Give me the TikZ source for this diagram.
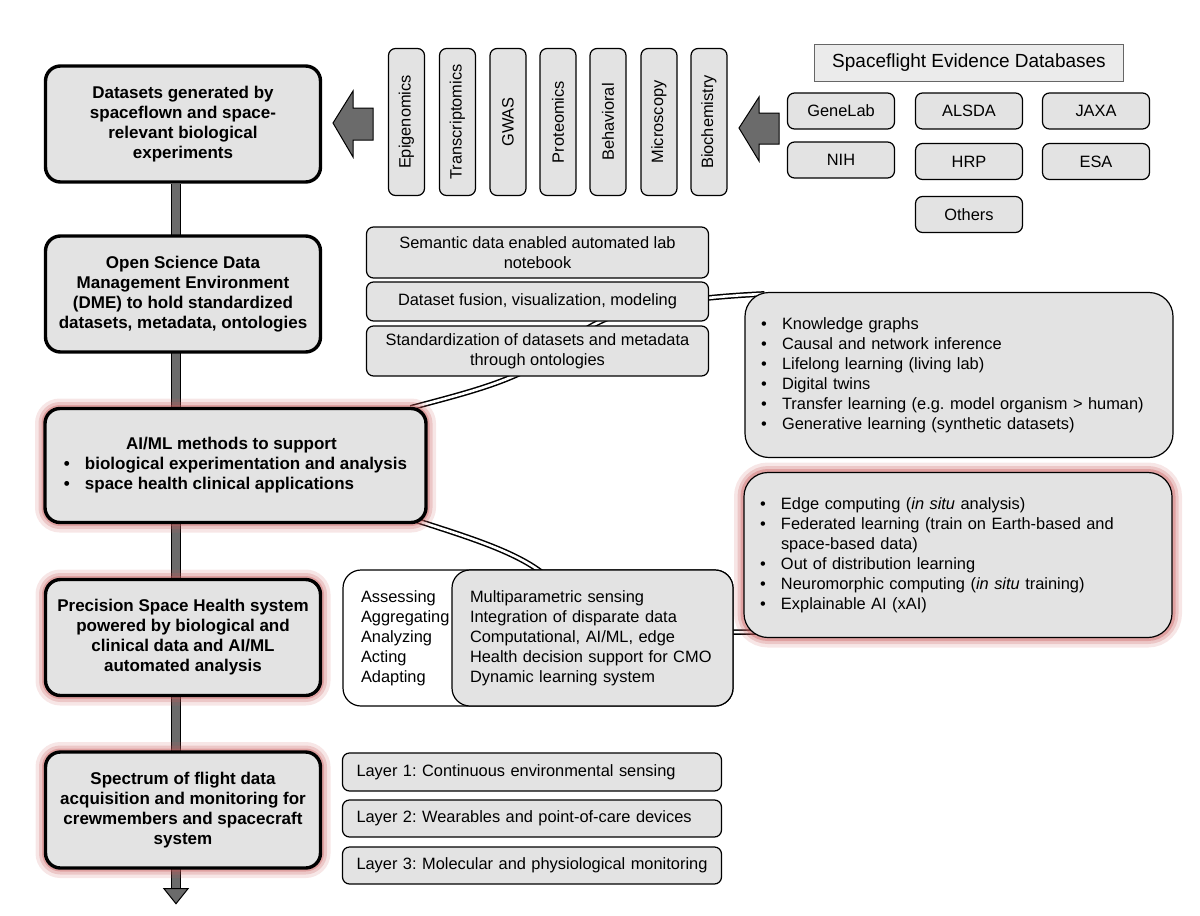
\documentclass[tikz,border=0pt]{standalone}
\usepackage{fontspec}
\setmainfont{Liberation Sans}
\usepackage{tikz}
\usetikzlibrary{positioning,backgrounds,calc}
\frenchspacing
\hyphenpenalty=10000
\definecolor{boxgray}{HTML}{E3E3E3}
\definecolor{arrgray}{HTML}{6B6B6B}
\definecolor{glowred}{HTML}{C85A5A}
\newcommand{\itm}{\makebox[21pt][l]{\textbullet}}
\tikzstyle{big}=[draw, line width=3.4pt, rounded corners=15pt, fill=boxgray, align=center, inner sep=0pt, minimum width=275pt, minimum height=116pt, font=\fontsize{17}{20}\selectfont\bfseries]
\tikzstyle{glow}=[preaction={draw=glowred, line width=20pt, opacity=.15}, preaction={draw=glowred, line width=13pt, opacity=.22}, preaction={draw=glowred, line width=7pt, opacity=.35}]
\tikzstyle{small}=[draw, line width=1.2pt, rounded corners=7pt, fill=boxgray, inner sep=0pt, font=\fontsize{16.4}{20}\selectfont]
\tikzstyle{strip}=[small, minimum width=36pt, minimum height=147pt]
\tikzstyle{db}=[small, minimum width=107pt, minimum height=36pt]
\tikzstyle{mid}=[small, align=center, minimum width=342pt]
\tikzstyle{layer}=[small, minimum width=379pt, text width=351pt, align=left]
\tikzstyle{list}=[small, rounded corners=24pt, align=left, minimum width=428pt, minimum height=165pt, text width=396pt]
\tikzstyle{spine}=[draw=black, line width=1.2pt, double=arrgray, double distance=8pt]
\tikzstyle{dbl}=[draw=black, line width=1.5pt, double=white, double distance=2.6pt]
\tikzstyle{blk}=[draw=black, line width=1pt, fill=arrgray, line join=miter]

\begin{document}
\begin{tikzpicture}[x=1pt, y=-1pt]
    \useasboundingbox (0,0) rectangle (1200,916);

    % main column
    \node [big] (data) at (183,124) {Datasets generated by\\spaceflown and space-\\relevant biological\\experiments};
    \node [big] (dme) [below of=data, node distance=170pt] {Open Science Data\\Management Environment\\(DME) to hold standardized\\datasets, metadata, ontologies};
    \node [big, glow, minimum width=381pt, minimum height=114pt, align=left] (aiml) at (235.5,465.5)
        {\makebox[335pt][c]{AI/ML methods to support}\\
         \itm biological experimentation and analysis\\
         \itm space health clinical applications};
    \node [big, glow] (psh) at (183,637.5) {Precision Space Health system\\powered by biological and\\clinical data and AI/ML\\automated analysis};
    \node [big, glow] (flight) [below of=psh, node distance=172.5pt] {Spectrum of flight data\\acquisition and monitoring for\\crewmembers and spacecraft\\system};

    % data types
    \node [strip] (epi) at (406.5,122) {\rotatebox{90}{Epigenomics}};
    \node [strip] (trans) [right of=epi, node distance=51pt] {\rotatebox{90}{Transcriptomics}};
    \node [strip] (gwas) [right of=trans, node distance=50.5pt] {\rotatebox{90}{GWAS}};
    \node [strip] (prot) [right of=gwas, node distance=50pt] {\rotatebox{90}{Proteomics}};
    \node [strip] (behav) [right of=prot, node distance=50pt] {\rotatebox{90}{Behavioral}};
    \node [strip] (micro) [right of=behav, node distance=51pt] {\rotatebox{90}{Microscopy}};
    \node [strip] (biochem) [right of=micro, node distance=50pt] {\rotatebox{90}{Biochemistry}};

    % databases
    \node [db] (genelab) at (841,111) {GeneLab};
    \node [db] (alsda) [right of=genelab, node distance=128pt] {ALSDA};
    \node [db] (jaxa) [right of=alsda, node distance=127pt] {JAXA};
    \node [db] (nih) [below of=genelab, node distance=49pt] {NIH};
    \node [db] (hrp) [below of=alsda, node distance=50.5pt] {HRP};
    \node [db] (esa) [below of=jaxa, node distance=50.5pt] {ESA};
    \node [db] (others) [below of=hrp, node distance=53pt] {Others};
    \node [small, sharp corners, draw=gray!80!black, line width=1pt, fill=boxgray!70, minimum width=309pt, minimum height=37pt, font=\fontsize{19}{22}\selectfont] (title) [above of=alsda, node distance=48.5pt] {Spaceflight Evidence Databases};

    % data management
    \node [mid, minimum height=51pt] (sem) at (537.5,252.5) {Semantic data enabled automated lab\\notebook};
    \node [mid, minimum height=39pt] (fusion) [below of=sem, node distance=49pt] {Dataset fusion, visualization, modeling};
    \node [mid, minimum height=50pt] (stand) [below of=fusion, node distance=49.5pt] {Standardization of datasets and metadata\\through ontologies};

    % methods
    \node [list] (kg) at (959,375)
        {\itm Knowledge graphs\\
         \itm Causal and network inference\\
         \itm Lifelong learning (living lab)\\
         \itm Digital twins\\
         \itm Transfer learning (e.g. model organism > human)\\
         \itm Generative learning (synthetic datasets)};
    \node [list, glow] (edge) at (958,555)
        {\itm Edge computing (\textit{in situ} analysis)\\
         \itm Federated learning (train on Earth-based and\\
         \hspace*{21pt}space-based data)\\
         \itm Out of distribution learning\\
         \itm Neuromorphic computing (\textit{in situ} training)\\
         \itm Explainable AI (xAI)};

    % health system
    \node [small, fill=white, rounded corners=18pt, minimum width=390pt, minimum height=136pt, text width=354pt, align=left] (assess) at (538,638)
        {Assessing\\Aggregating\\Analyzing\\Acting\\Adapting};
    \node [small, rounded corners=18pt, minimum width=281pt, minimum height=136pt, text width=245pt, align=left] (multi) at (592.5,638)
        {Multiparametric sensing\\Integration of disparate data\\Computational, AI/ML, edge\\Health decision support for CMO\\Dynamic learning system};

    % layers
    \node [layer, minimum height=38pt] (layer1) at (532,772) {Layer 1: Continuous environmental sensing};
    \node [layer, minimum height=37pt] (layer2) [below of=layer1, node distance=46.5pt] {Layer 2: Wearables and point-of-care devices};
    \node [layer, minimum height=37pt] (layer3) [below of=layer2, node distance=47pt] {Layer 3: Molecular and physiological monitoring};

    % block arrows
    \draw [blk] (373,108) -- (353,108) -- (353,91) -- (333,123) -- (353,157) -- (353,140) -- (373,140) -- cycle;
    \draw [blk] (779,113) -- (759,113) -- (759,97) -- (739,128) -- (759,161) -- (759,144) -- (779,144) -- cycle;

    \begin{scope}[on background layer]
        \coordinate (sp) at (176,0);
        \draw [spine] (data.south -| sp) -- ($(flight.south -| sp)+(0,20)$);
        \draw [blk] ($(flight.south -| sp)+(-12,19)$) -- ++(24,0) -- ++(-12,15) -- cycle;
        \draw [dbl] ($(aiml.north east)+(-17,1)$) .. controls (470,392) and (520,380) .. (555,352)
            .. controls (585,328) and (600,318) .. (640,308)
            .. controls (680,300) and (720,296) .. ($(kg.north west)+(20,2)$);
        \draw [dbl] ($(aiml.south east)+(-15,-5)$) .. controls (470,538) and (530,555) .. (555,585)
            .. controls (580,615) and (640,632) .. (700,632) -- ($(edge.south west)+(22,-6)$);
    \end{scope}
\end{tikzpicture}
\end{document}
